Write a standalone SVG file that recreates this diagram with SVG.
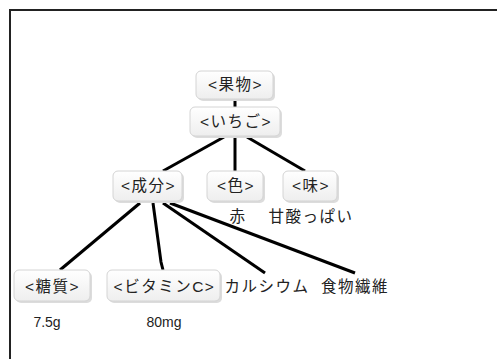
<svg xmlns="http://www.w3.org/2000/svg" width="497" height="359" viewBox="0 0 497 359">
<defs>
<linearGradient id="g" x1="0" y1="0" x2="0" y2="1">
<stop offset="0" stop-color="#ffffff"/>
<stop offset="1" stop-color="#eeeeee"/>
</linearGradient>
<style>
.box{fill:url(#g);stroke:#d4d4d4;stroke-width:1}
.sh{fill:#dcdcdc}
.t{font-family:"Liberation Sans","Noto Sans CJK JP",sans-serif;font-size:15.5px;letter-spacing:1.5px;fill:#222;text-anchor:middle}
.n{font-family:"Liberation Sans",sans-serif;font-size:14px;fill:#222;text-anchor:middle}
.c{stroke:#000;stroke-width:3;fill:none}
</style>
</defs>
<rect width="497" height="359" fill="#fff"/>
<path d="M10,359 V10 H497" fill="none" stroke="#222" stroke-width="2"/>
<g id="connectors">
<line class="c" x1="235" y1="99" x2="235" y2="107"/>
<line class="c" x1="224" y1="137" x2="163" y2="171"/>
<line class="c" x1="235" y1="137" x2="235" y2="171"/>
<line class="c" x1="247" y1="137" x2="305" y2="171"/>
<line class="c" x1="140" y1="203" x2="60" y2="270"/>
<polyline class="c" points="153,203 161,262 163,270"/>
<line class="c" x1="163" y1="203" x2="265" y2="273"/>
<line class="c" x1="170" y1="203" x2="355" y2="273"/>
</g>
<g id="n-fruit">
<rect class="sh" x="198" y="73" width="77" height="28" rx="5"/>
<rect class="box" x="196" y="71" width="77" height="28" rx="5"/>
<text class="t" x="235.5" y="90">&lt;果物&gt;</text>
</g>
<g id="n-ichigo">
<rect class="sh" x="192" y="109" width="90" height="29" rx="5"/>
<rect class="box" x="190" y="107" width="90" height="29" rx="5"/>
<text class="t" x="236" y="127">&lt;いちご&gt;</text>
</g>
<g id="n-seibun">
<rect class="sh" x="115" y="173" width="69" height="30" rx="5"/>
<rect class="box" x="113" y="171" width="69" height="30" rx="5"/>
<text class="t" x="148.5" y="191">&lt;成分&gt;</text>
</g>
<g id="n-iro">
<rect class="sh" x="209" y="173" width="56" height="30" rx="5"/>
<rect class="box" x="207" y="171" width="56" height="30" rx="5"/>
<text class="t" x="236" y="191">&lt;色&gt;</text>
<text class="t" x="238" y="222">赤</text>
</g>
<g id="n-aji">
<rect class="sh" x="285" y="173" width="54" height="30" rx="5"/>
<rect class="box" x="283" y="171" width="54" height="30" rx="5"/>
<text class="t" x="311" y="191">&lt;味&gt;</text>
<text class="t" x="311" y="222">甘酸っぱい</text>
</g>
<g id="n-toushitsu">
<rect class="sh" x="16" y="272" width="76" height="31" rx="5"/>
<rect class="box" x="14" y="270" width="76" height="31" rx="5"/>
<text class="t" x="52.5" y="292">&lt;糖質&gt;</text>
<text class="n" x="47" y="327">7.5g</text>
</g>
<g id="n-vitc">
<rect class="sh" x="109" y="272" width="113" height="31" rx="5"/>
<rect class="box" x="107" y="270" width="113" height="31" rx="5"/>
<text class="t" x="164.5" y="292">&lt;ビタミンC&gt;</text>
<text class="n" x="164" y="327">80mg</text>
</g>
<g id="n-ca">
<text class="t" x="267" y="292">カルシウム</text>
</g>
<g id="n-fiber">
<text class="t" x="355" y="292">食物繊維</text>
</g>
</svg>
